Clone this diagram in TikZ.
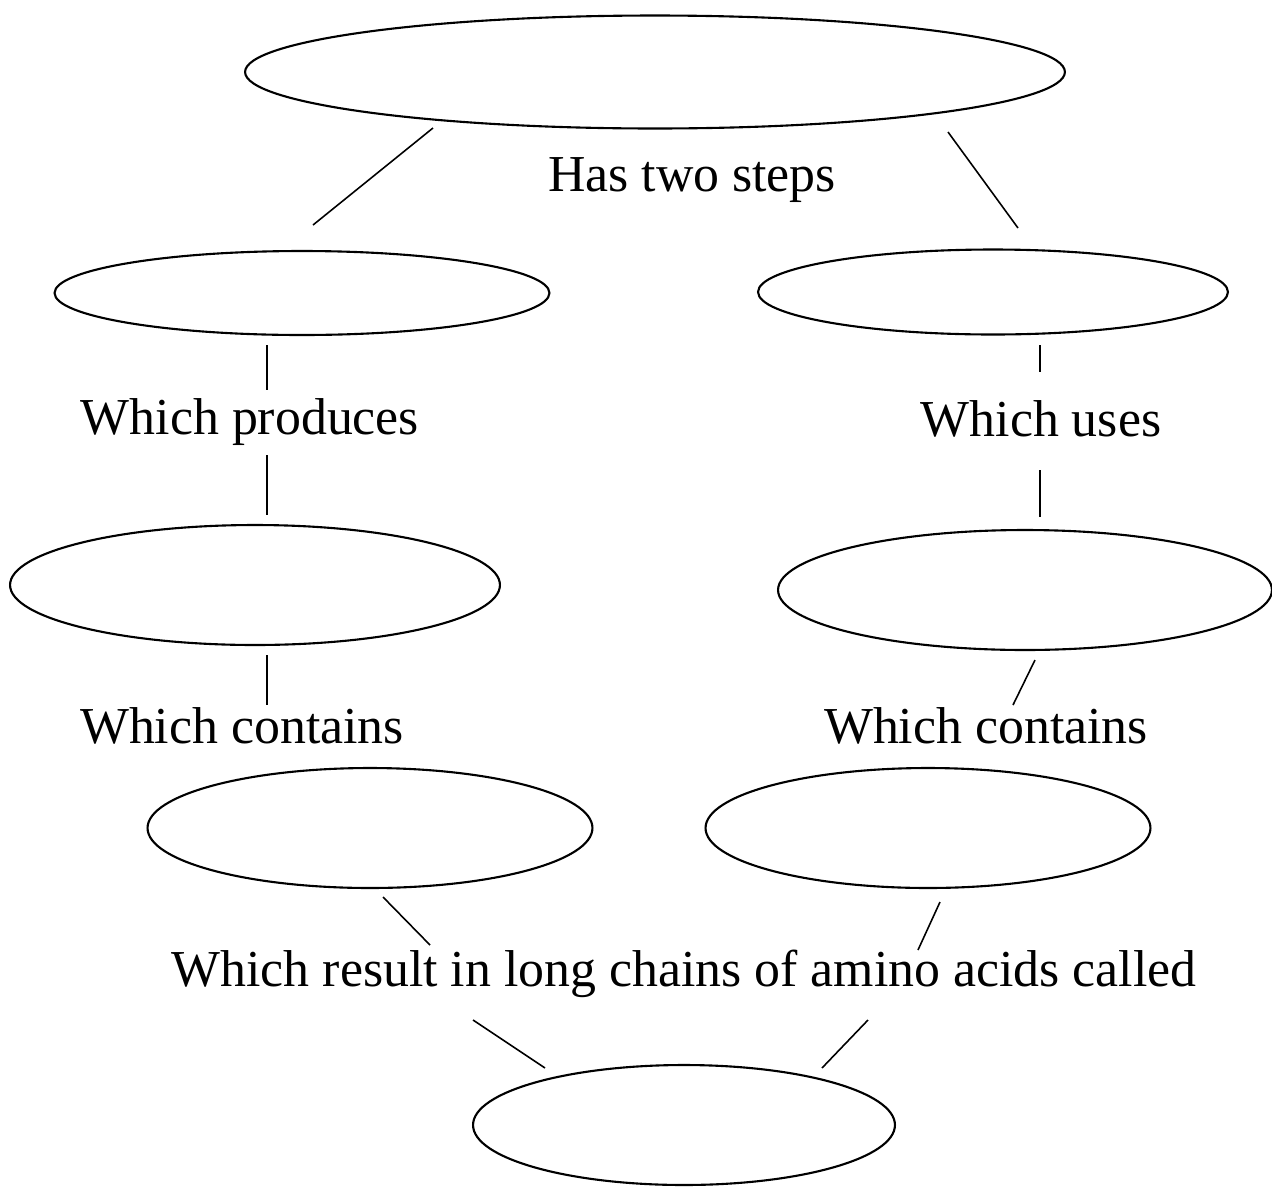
\documentclass[tikz,border=0pt]{standalone}
\usepackage{fontspec}
\setmainfont{Liberation Serif}
\usetikzlibrary{shapes.geometric}
\begin{document}
\begin{tikzpicture}[x=0.02cm,y=-0.02cm,
  oval/.style={draw, ellipse, line width=1.2pt, inner sep=0pt},
  lbl/.style={font=\fontsize{29.5}{33}\selectfont, inner sep=0pt, anchor=base},
  link/.style={line width=0.9pt}]
\useasboundingbox[fill=white] (0,0) rectangle (1272,1191);
% ellipses
\node[oval, minimum width=16.4cm, minimum height=2.26cm] (e1) at (655,72) {};
\node[oval, minimum width=9.9cm, minimum height=1.68cm] (e2) at (302,293) {};
\node[oval, minimum width=9.4cm, minimum height=1.7cm] (e3) at (993,292) {};
\node[oval, minimum width=9.8cm, minimum height=2.4cm] (e4) at (255,585) {};
\node[oval, minimum width=9.88cm, minimum height=2.4cm] (e5) at (1025,590) {};
\node[oval, minimum width=8.9cm, minimum height=2.4cm] (e6) at (370,828) {};
\node[oval, minimum width=8.9cm, minimum height=2.4cm] (e7) at (928,828) {};
\node[oval, minimum width=8.44cm, minimum height=2.4cm] (e8) at (684,1125) {};
% labels
\node[lbl] (t1) at (692,191) {Has two steps};
\node[lbl] (t2) at (250,434) {Which produces};
\node[lbl] (t3) at (1041,436) {Which uses};
\node[lbl] (t4) at (242,743) {Which contains};
\node[lbl] (t5) at (986,743) {Which contains};
\node[lbl] (t6) at (684,986) {Which result in long chains of amino acids called};
% connector end points
\coordinate (a1) at (433,128); \coordinate (a2) at (313,225);
\coordinate (b1) at (948,132); \coordinate (b2) at (1018,228);
\coordinate (c1) at (267,345); \coordinate (c2) at (267,390);
\coordinate (c3) at (267,455); \coordinate (c4) at (267,515);
\coordinate (d1) at (1040,345); \coordinate (d2) at (1040,372);
\coordinate (d3) at (1040,470); \coordinate (d4) at (1040,517);
\coordinate (f1) at (267,655); \coordinate (f2) at (267,705);
\coordinate (g1) at (1035,660); \coordinate (g2) at (1013,705);
\coordinate (h1) at (383,897); \coordinate (h2) at (430,945);
\coordinate (i1) at (940,902); \coordinate (i2) at (918,950);
\coordinate (j1) at (473,1020); \coordinate (j2) at (545,1068);
\coordinate (k1) at (868,1020); \coordinate (k2) at (822,1068);
\foreach \p/\q in {a1/a2,b1/b2,c1/c2,c3/c4,d1/d2,d3/d4,f1/f2,g1/g2,h1/h2,i1/i2,j1/j2,k1/k2}
  \draw[link] (\p) -- (\q);
\end{tikzpicture}
\end{document}
